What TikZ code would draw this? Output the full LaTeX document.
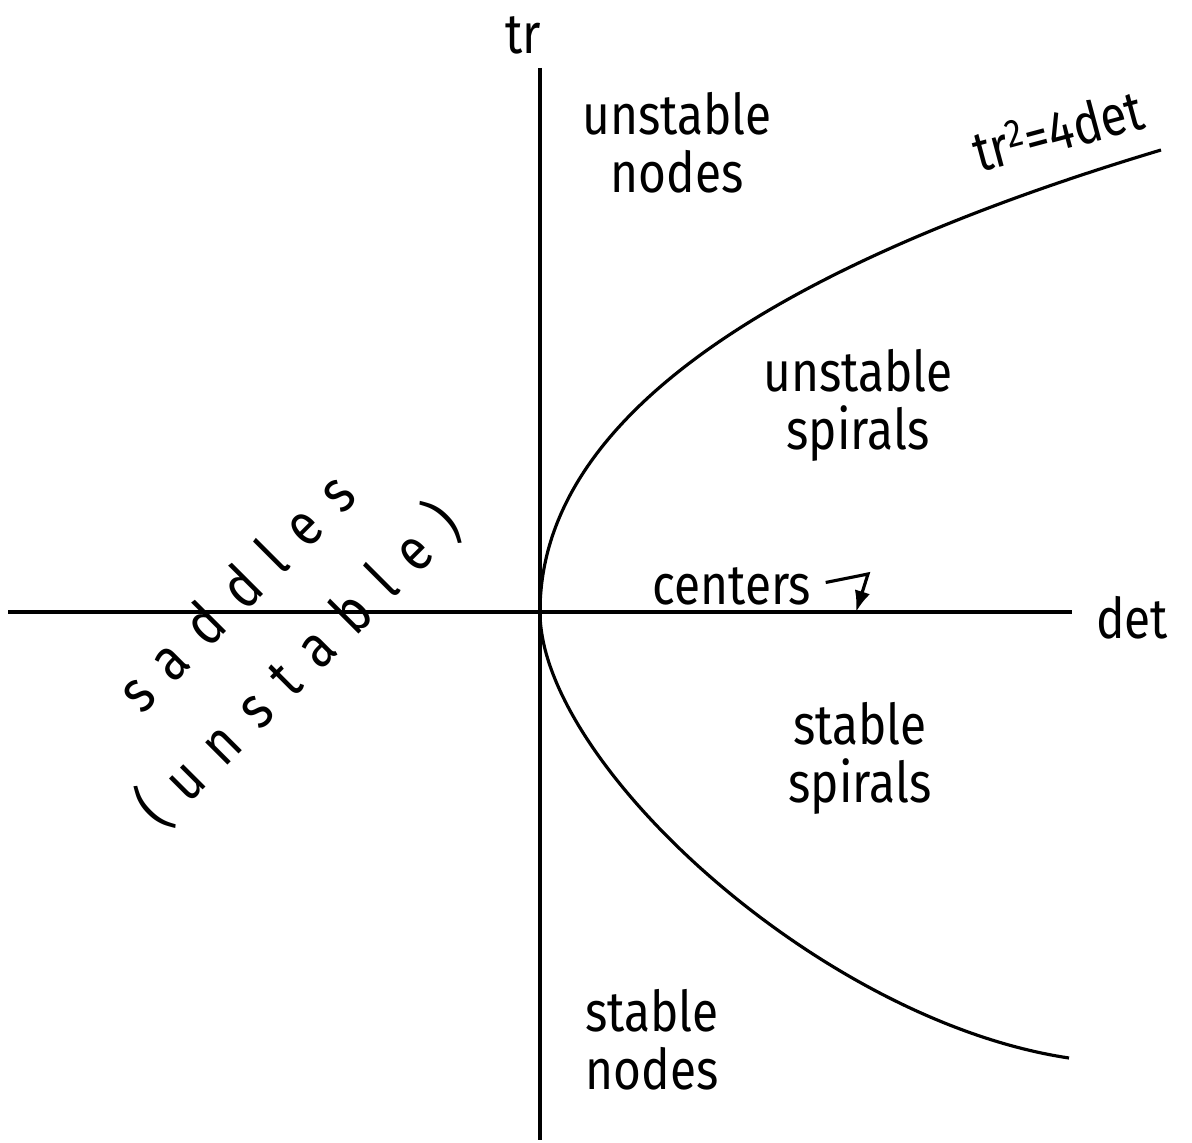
\documentclass[tikz,border=0pt]{standalone}
\usepackage{fontspec}
\setmainfont{Fira Sans}[FakeStretch=0.85]
\usetikzlibrary{arrows.meta}
\begin{document}
\begin{tikzpicture}[x=0.02cm,y=-0.02cm,
  axis/.style={line width=1.9pt},
  curve/.style={line width=1.8pt},
  lbl/.style={font=\fontsize{32}{33}\selectfont, align=center, inner sep=0pt},
  spaced/.style={font=\fontsize{34}{35}\selectfont\addfontfeature{LetterSpace=36}, inner sep=0pt},
  pointer/.style={line width=1.8pt, -{Latex[length=12pt,width=9pt]}}]
\useasboundingbox (0,0) rectangle (1192,1142);
% axes
\coordinate (O) at (540,612);
\coordinate (xl) at (8,612);
\coordinate (xr) at (1072,612);
\coordinate (yt) at (540,68);
\coordinate (yb) at (540,1140);
\draw[axis] (xl) -- (xr);
\draw[axis] (yt) -- (yb);
\node[lbl] (trl) at (523,35) {tr};
\node[lbl] (detl) at (1132,618) {det};
% parabola tr^2 = 4 det
\coordinate (upend) at (1161,150);
\coordinate (lowend) at (1069,1058);
\draw[curve] (upend) .. controls (811,255) and (540,402) .. (O)
  .. controls (540,762) and (819,1020.5) .. (lowend);
\node[lbl, rotate=15] (parl) at (1058,130) {tr\textsuperscript{2}=4det};
% region labels
\node[lbl] (un) at (677,143) {unstable\\nodes};
\node[lbl] (us) at (858,405) {unstable\\spirals};
\node[lbl] (ss) at (860,758) {stable\\spirals};
\node[lbl] (sn) at (652,1040) {stable\\nodes};
\node[spaced, rotate=45] (sad) at (235,592) {saddles};
\node[spaced, rotate=45] (sadu) at (298,665) {(unstable)};
% centers
\node[lbl] (centers) at (732,586) {centers};
\coordinate (cbend) at (868,574);
\coordinate (ctip) at (856,612);
\draw[pointer] ([xshift=8pt,yshift=2pt]centers.east) -- (cbend) -- (ctip);
\end{tikzpicture}
\end{document}
